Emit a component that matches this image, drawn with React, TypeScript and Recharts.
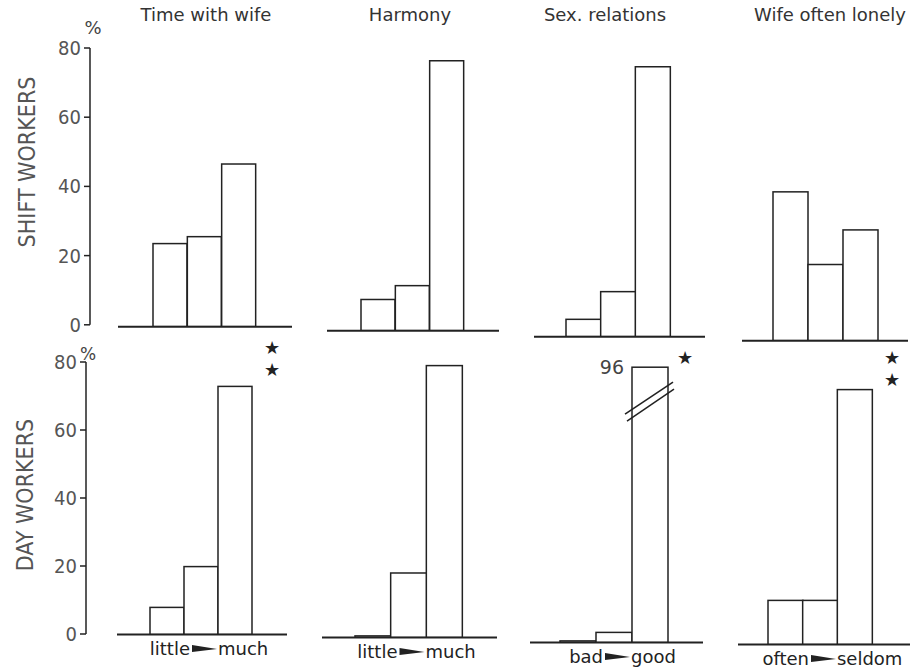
import { BarChart, Bar, XAxis, YAxis } from "recharts"

const categories = ["low", "mid", "high"]
const topics = ["Time with wife", "Harmony", "Sex. relations", "Wife often lonely"]
const groups = ["SHIFT WORKERS", "DAY WORKERS"]

const shiftTimeWithWife = [24, 26, 47]
const shiftHarmony = [9, 13, 78]
const shiftSexRelations = [5, 13, 78]
const shiftWifeLonely = [43, 22, 32]

const dayTimeWithWife = [8, 20, 73]
const dayHarmony = [0.5, 19, 80]
const daySexRelations = [0.5, 3, 96]
const dayWifeLonely = [13, 13, 75]

const scaleEnds = [
  ["little", "much"],
  ["little", "much"],
  ["bad", "good"],
  ["often", "seldom"],
]
const yTicks = [0, 20, 40, 60, 80]
const dayStars = [2, 0, 1, 2]

const Y_TOP = 84
const CAP = 81
const INK = "#222"
const FONT = '"DejaVu Sans", sans-serif'
const COND = '"DejaVu Sans Condensed", "DejaVu Sans", sans-serif'

// [baseLeft, baseRight, baselineY, padLeft, padRight]
const ROWS = [
  {
    ppu: 3.46,
    axisX: 90,
    axisBase: 325,
    series: [shiftTimeWithWife, shiftHarmony, shiftSexRelations, shiftWifeLonely],
    panels: [
      [118, 292, 327, 35, 36],
      [327, 499, 331, 34, 35],
      [534, 705, 337, 32, 35],
      [742, 908, 341, 31, 30],
    ],
  },
  {
    ppu: 3.4,
    axisX: 86,
    axisBase: 634,
    series: [dayTimeWithWife, dayHarmony, daySexRelations, dayWifeLonely],
    panels: [
      [117, 287, 635, 33, 35],
      [322, 497, 638, 33, 35],
      [530, 703, 643, 30, 35],
      [738, 910, 645, 30, 38],
    ],
  },
]

const toRows = (values: number[]) => categories.map((c, i) => ({ name: c, value: values[i] }))

function BarShape(props: any) {
  const { x, y, width, height, payload } = props
  const v = payload.value
  if (v <= Y_TOP) {
    return <rect x={x} y={y} width={width} height={Math.max(height, 0)} fill="#fff" stroke={INK} strokeWidth={1.5} />
  }
  // value runs off the scale: cut the bar and mark the break
  const base = y + height
  const ppu = height / v
  const top = base - CAP * ppu
  const by = top + 15
  return (
    <g>
      <rect x={x} y={top} width={width} height={base - top} fill="#fff" stroke={INK} strokeWidth={1.5} />
      <line x1={x - 7} y1={by + 32} x2={x + width + 5} y2={by} stroke={INK} strokeWidth={1.5} />
      <line x1={x - 5} y1={by + 39} x2={x + width + 6} y2={by + 7} stroke={INK} strokeWidth={1.5} />
      <text x={x - 8} y={top + 7} textAnchor="end" fontSize={19} fill="#444" fontFamily={FONT}>
        {v}
      </text>
    </g>
  )
}

function ScaleLabel({ viewBox, ends, padL, padR }: any) {
  if (!viewBox) return null
  const cx = viewBox.x + padL + (viewBox.width - padL - padR) / 2 + 3
  const y = viewBox.y + 20
  return (
    <g fontFamily={FONT} fontSize={18} fill={INK}>
      <text x={cx - 14} y={y} textAnchor="end">{ends[0]}</text>
      <polygon points={`${cx - 12},${y - 9.5} ${cx + 13},${y - 5.5} ${cx - 12},${y - 2.5}`} fill={INK} />
      <text x={cx + 14} y={y} textAnchor="start">{ends[1]}</text>
    </g>
  )
}

function Panel({ values, geo, ppu, ends }: any) {
  const [left, right, base, padL, padR] = geo
  const plotH = Y_TOP * ppu
  return (
    <div style={{ position: "absolute", left, top: base - plotH }}>
      <BarChart
        width={right - left}
        height={plotH + 30}
        data={toRows(values)}
        margin={{ top: 0, right: 0, bottom: 0, left: 0 }}
        barCategoryGap={0}
        barGap={0}
      >
        <XAxis
          dataKey="name"
          tick={false}
          tickLine={false}
          height={30}
          padding={{ left: padL, right: padR }}
          axisLine={{ stroke: INK, strokeWidth: 2 }}
          label={ends ? { content: (p: any) => <ScaleLabel {...p} ends={ends} padL={padL} padR={padR} /> } : undefined}
        />
        <YAxis hide domain={[0, Y_TOP]} allowDataOverflow />
        <Bar dataKey="value" isAnimationActive={false} shape={BarShape} />
      </BarChart>
    </div>
  )
}

function PercentAxis({ row }: any) {
  const plotH = 80 * row.ppu
  return (
    <div style={{ position: "absolute", left: row.axisX - 60, top: row.axisBase - plotH - 12 }}>
      <BarChart
        width={80}
        height={plotH + 24}
        data={toRows(row.series[0])}
        margin={{ top: 12, right: 0, bottom: 12, left: 4 }}
      >
        <XAxis dataKey="name" hide />
        <YAxis
          type="number"
          width={56}
          domain={[0, 80]}
          allowDataOverflow
          ticks={yTicks}
          interval={0}
          tickSize={6}
          tickMargin={3}
          axisLine={{ stroke: INK, strokeWidth: 1.5 }}
          tickLine={{ stroke: INK, strokeWidth: 1.5 }}
          tick={{ fontSize: 20, fill: "#555", fontFamily: COND }}
        />
        {/* invisible series so the axis gets a scale */}
        <Bar dataKey="value" fill="none" stroke="none" isAnimationActive={false} />
      </BarChart>
    </div>
  )
}

export default function App() {
  const titleX = [206, 410, 605, 830]
  const starPos = [
    [272, 347],
    [0, 0],
    [685, 357],
    [892, 357],
  ]
  return (
    <div
      style={{
        position: "absolute",
        left: 0,
        top: 0,
        width: 917,
        height: 668,
        background: "#fff",
        overflow: "hidden",
        fontFamily: FONT,
      }}
    >
      {ROWS.map((row, r) => (
        <div key={r}>
          <PercentAxis row={row} />
          {row.panels.map((geo, i) => (
            <Panel key={i} values={row.series[i]} geo={geo} ppu={row.ppu} ends={r === 1 ? scaleEnds[i] : null} />
          ))}
        </div>
      ))}
      <svg width={917} height={668} style={{ position: "absolute", left: 0, top: 0, pointerEvents: "none" }}>
        {topics.map((t, i) => (
          <text key={t} x={titleX[i]} y={21} textAnchor="middle" fontSize={18} fill="#333" fontFamily={FONT}>
            {t}
          </text>
        ))}
        <text x={27} y={162} transform="rotate(-90 27 162)" textAnchor="middle" dominantBaseline="central" fontSize={23} fill="#555" fontFamily={COND}>
          {groups[0]}
        </text>
        <text x={25} y={495} transform="rotate(-90 25 495)" textAnchor="middle" dominantBaseline="central" fontSize={23} fill="#555" fontFamily={COND}>
          {groups[1]}
        </text>
        <text x={93} y={34} textAnchor="middle" fontSize={18} fill="#444" fontFamily={FONT}>%</text>
        <text x={88} y={360} textAnchor="middle" fontSize={17} fill="#444" fontFamily={FONT}>%</text>
        {dayStars.map((n, i) =>
          Array.from({ length: n }).map((_, k) => (
            <text
              key={`${i}-${k}`}
              x={starPos[i][0]}
              y={starPos[i][1] + k * 22}
              textAnchor="middle"
              dominantBaseline="central"
              fontSize={18}
              fill={INK}
              fontFamily={FONT}
            >
              ★
            </text>
          ))
        )}
      </svg>
    </div>
  )
}
